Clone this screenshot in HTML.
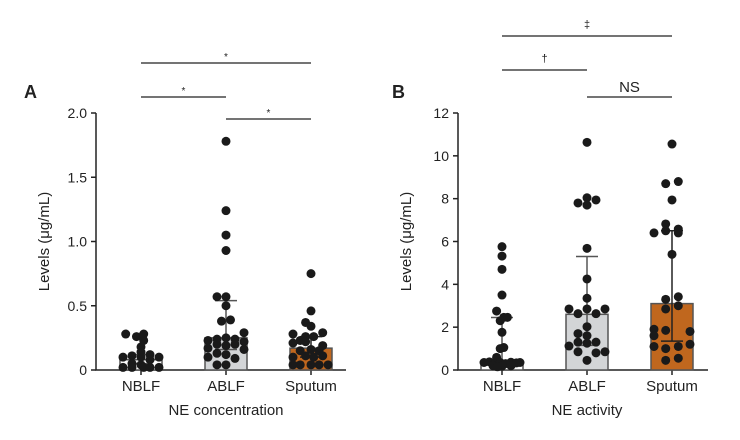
<!DOCTYPE html>
<html><head><meta charset="utf-8"><style>
body{margin:0;background:#fff;}
svg{display:block;font-family:"Liberation Sans",sans-serif;}
</style></head><body>
<svg id="chart" width="740" height="440" viewBox="0 0 740 440"></svg>
<script>
const categories=["NBLF","ABLF","Sputum"];
const ticksA=[0,0.5,1.0,1.5,2.0];
const tickLabelsA=["0","0.5","1.0","1.5","2.0"];
const ticksB=[0,2,4,6,8,10,12];
const tickLabelsB=["0","2","4","6","8","10","12"];
const medianA=[0.08,0.25,0.17];
const errLowA=[0.05,0.16,0.10];
const errHighA=[0.12,0.54,0.26];
const medianB=[0.35,2.6,3.1];
const errLowB=[0.2,1.15,1.35];
const errHighB=[2.45,5.3,6.5];
// dots: [offset index (-3..3 units of ~7px), value]
const dotsA0=[[-2,0.02],[-2,0.10],[-1,0.11],[-1,0.05],[-1,0.02],[0,0.14],[0,0.18],[0,0.10],[0,0.04],[-0.5,0.26],[0.3,0.23],[0.3,0.28],[0.3,0.02],[1,0.12],[1,0.08],[1,0.02],[2,0.10],[2,0.02],[-1.7,0.28]];
const dotsA1=[[0,1.78],[0,1.24],[0,1.05],[0,0.93],[-1,0.57],[0,0.57],[0,0.50],[-0.5,0.38],[0.5,0.39],[-2,0.23],[-1,0.24],[0,0.25],[1,0.24],[2,0.29],[2,0.22],[-2,0.17],[-1,0.20],[0,0.19],[1,0.20],[2,0.16],[-1,0.13],[0,0.12],[-2,0.10],[1,0.09],[-1,0.04],[0,0.04]];
const dotsA2=[[0,0.75],[0,0.46],[-0.6,0.37],[0,0.34],[-2,0.28],[-0.6,0.26],[0.3,0.26],[1.3,0.29],[-2,0.21],[-1.2,0.23],[-0.6,0.22],[1.3,0.19],[-1.2,0.15],[0,0.16],[0.9,0.15],[-2,0.10],[-0.6,0.11],[0.3,0.10],[1.3,0.11],[-1.2,0.04],[0,0.04],[0.9,0.04],[-2,0.04],[1.9,0.04]];
const dotsB0=[[0,5.76],[0,5.32],[0,4.7],[0,3.5],[-0.6,2.75],[0.2,2.46],[0.6,2.46],[-0.2,2.3],[0,1.76],[-0.2,1.0],[0.2,1.05],[-0.6,0.59],[-2,0.35],[-1.4,0.38],[-0.8,0.3],[-0.2,0.35],[0.4,0.3],[1,0.36],[1.6,0.33],[2,0.35],[-1,0.2],[0,0.18],[1,0.2],[-0.5,0.15]];
const dotsB1=[[0,10.63],[0,8.04],[-1,7.8],[1,7.94],[0,7.7],[0,5.68],[0,4.25],[0,3.35],[-2,2.85],[-1,2.63],[0,2.85],[1,2.63],[2,2.85],[0,2.02],[-1,1.7],[0,1.6],[-2,1.12],[-1,1.3],[1,1.3],[0,1.25],[-1,0.85],[1,0.8],[2,0.85],[0,0.45]];
const dotsB2=[[0,10.55],[-0.7,8.7],[0.7,8.8],[0,7.94],[-0.7,6.82],[0.7,6.58],[-2,6.4],[-0.7,6.5],[0.7,6.4],[0,5.4],[0.7,3.42],[-0.7,3.3],[0.7,3.0],[-0.7,2.85],[-2,1.9],[-2,1.6],[-0.7,1.85],[2,1.8],[2,1.2],[-2,1.1],[-0.7,1.0],[0.7,1.1],[-0.7,0.45],[0.7,0.55]];

const svg=document.getElementById('chart');
const NS='http://www.w3.org/2000/svg';
function mk(tag,attrs,parent){const e=document.createElementNS(NS,tag);for(const k in attrs)e.setAttribute(k,attrs[k]);(parent||svg).appendChild(e);return e;}

function panel(cfg){
  const g=mk('g',{});
  
  
  const y0=370,y1=113,x0=cfg.axisX;
  const yS=v=>y0-(v/cfg.max)*(y0-y1);
  const xS=i=>cfg.cx[i];
  // axes
  const ax=mk('path',{d:`M${x0} ${y1}V${y0}H${x0+250}`,stroke:'#222','stroke-width':1.5,fill:'none'},g);
  
  
  cfg.ticks.forEach((t,i)=>{
    mk('line',{x1:x0-5,x2:x0,y1:yS(t),y2:yS(t),stroke:'#222','stroke-width':1.5},g);
    const tl=mk('text',{x:x0-9,y:yS(t)+5,'text-anchor':'end','font-size':14,fill:'#222'},g);
    tl.textContent=cfg.tickLabels[i];
    
    
  });
  const yt=mk('text',{x:0,y:0,transform:`translate(${x0-47},${(y0+y1)/2}) rotate(-90)`,'text-anchor':'middle','font-size':15,fill:'#222'},g);
  yt.textContent='Levels (μg/mL)';
  
  
  const pl=mk('text',{x:cfg.labelX,y:98,'font-size':18,'font-weight':'bold',fill:'#222'},g);
  pl.textContent=cfg.letter;
  
  
  categories.forEach((c,i)=>{
    mk('line',{x1:xS(i),x2:xS(i),y1:y0,y2:y0+5,stroke:'#222','stroke-width':1.5},g);
    const b=mk('rect',{x:xS(i)-21,y:yS(cfg.median[i]),width:42,height:y0-yS(cfg.median[i]),fill:cfg.fills[i],stroke:'#555','stroke-width':1.5},g);
    
    
    const ec=i==2?'#222':'#555';
    mk('line',{x1:xS(i),x2:xS(i),y1:yS(cfg.lo[i]),y2:yS(cfg.hi[i]),stroke:ec,'stroke-width':1.5},g);
    mk('line',{x1:xS(i)-11,x2:xS(i)+11,y1:yS(cfg.lo[i]),y2:yS(cfg.lo[i]),stroke:ec,'stroke-width':1.5},g);
    mk('line',{x1:xS(i)-11,x2:xS(i)+11,y1:yS(cfg.hi[i]),y2:yS(cfg.hi[i]),stroke:ec,'stroke-width':1.5},g);
    cfg.dots[i].forEach(d=>{
      const p=mk('circle',{cx:xS(i)+d[0]*9,cy:yS(d[1]),r:4.5,fill:'#1a1a1a'},g);
      
      
    });
    const xl=mk('text',{x:xS(i),y:391,'text-anchor':'middle','font-size':15,fill:'#222'},g);
    xl.textContent=c;
    
    
  });
  const xt=mk('text',{x:xS(1),y:415,'text-anchor':'middle','font-size':15,fill:'#222'},g);
  xt.textContent=cfg.title;
  
  
  cfg.sig.forEach(s=>{
    const ln=mk('line',{x1:xS(s[0]),x2:xS(s[1]),y1:s[2],y2:s[2],stroke:'#222','stroke-width':1.3},g);
    
    
    const st=mk('text',{x:(xS(s[0])+xS(s[1]))/2,y:s[2]-s[4],'text-anchor':'middle','font-size':s[5],fill:'#222'},g);
    st.textContent=s[3];
    
    
  });
}
panel({name:'panel-a-ne-concentration',axisX:96,labelX:24,letter:'A',max:2,ticks:ticksA,tickLabels:tickLabelsA,cx:[141,226,311],
  median:medianA,lo:errLowA,hi:errHighA,dots:[dotsA0,dotsA1,dotsA2],fills:['#ffffff','#d3d5d7','#c0671e'],title:'NE concentration',
  sig:[[0,2,63,'*',3,10],[0,1,97,'*',3,10],[1,2,119,'*',3,10]]});
panel({name:'panel-b-ne-activity',axisX:458,labelX:392,letter:'B',max:12,ticks:ticksB,tickLabels:tickLabelsB,cx:[502,587,672],
  median:medianB,lo:errLowB,hi:errHighB,dots:[dotsB0,dotsB1,dotsB2],fills:['#ffffff','#d3d5d7','#c0671e'],title:'NE activity',
  sig:[[0,2,36,'‡',8,11],[0,1,70,'†',8,11],[1,2,97,'NS',5,15]]});
</script>
</body></html>
